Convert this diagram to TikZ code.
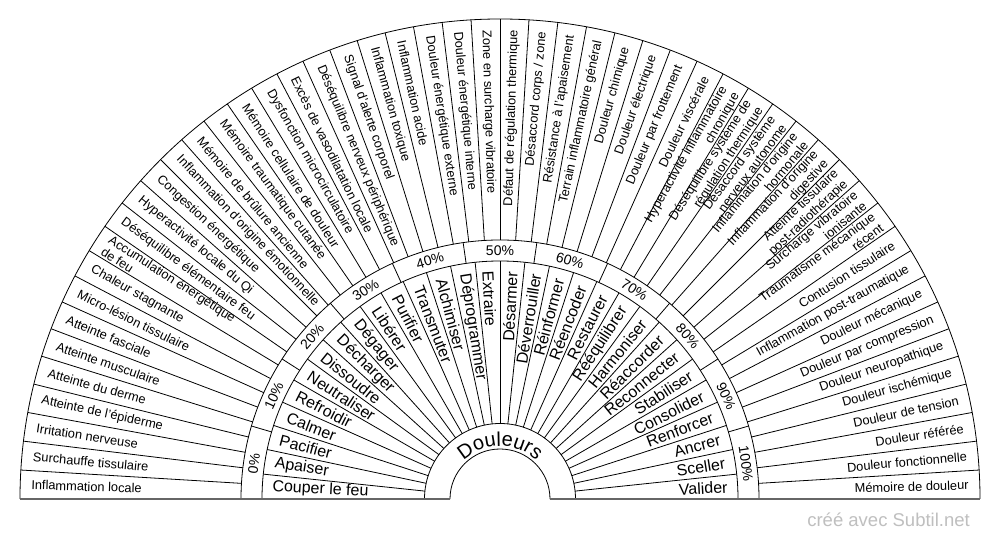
\documentclass[tikz,border=0pt]{standalone}
\usepackage{fontspec}
\setmainfont{Liberation Sans}
\usetikzlibrary{decorations.text}
\tikzset{
  olabel/.style={font=\fontsize{12.8}{14}\selectfont, inner sep=0pt},
  wlabel/.style={font=\fontsize{16}{18}\selectfont, inner sep=0pt},
  plabel/.style={font=\fontsize{14}{16}\selectfont, inner sep=0pt},
  sepline/.style={draw=black, line width=0.8pt},
  baseline/.style={draw=black!60, line width=1.4pt},
  watermark/.style={font=\fontsize{18.5}{20}\selectfont, text=black!25, inner sep=0pt}
}
\begin{document}
\begin{tikzpicture}[x=1pt,y=1pt]
\useasboundingbox (-500,-41) rectangle (500,499);
\fill[white] (-500,-41) rectangle (500,499);
% rings
\foreach \r in {50,75.5,238,259,480}{
  \draw[sepline] (\r,0) arc (0:180:\r);
}
% baseline
\draw[baseline] (-480,0) -- (-50,0);
\draw[baseline] (50,0) -- (480,0);
% outer separators
\foreach \i in {1,...,51}{
  \pgfmathsetmacro\a{180-\i*180/52}
  \draw[sepline] (\a:259) -- (\a:480);
}
% inner word separators
\foreach \i in {1,...,29}{
  \pgfmathsetmacro\a{180-\i*6}
  \draw[sepline] (\a:75.5) -- (\a:238);
}
% percent separators
\foreach \i in {1,...,10}{
  \pgfmathsetmacro\a{180-\i*180/11}
  \draw[sepline] (\a:238) -- (\a:259);
}
% outer labels, left half
\foreach \t [count=\i] in {Inflammation locale, Surchauffe tissulaire, Irritation nerveuse, Atteinte de l'épiderme, Atteinte du derme, Atteinte musculaire, Atteinte fasciale, Micro-lésion tissulaire, Chaleur stagnante, {Accumulation énergétique\\de feu}, Déséquilibre élémentaire feu, Hyperactivité locale du Qi, Congestion énergétique, Inflammation d'origine émotionnelle, Mémoire de brûlure ancienne, Mémoire traumatique cutanée, Mémoire cellulaire de douleur, Dysfonction microcirculatoire, Excès de vasodilatation locale, Déséquilibre nerveux périphérique, Signal d'alerte corporel, Inflammation toxique, Inflammation acide, Douleur énergétique externe, Douleur énergétique interne, Zone en surcharge vibratoire}{
  \pgfmathsetmacro\a{180-(\i-0.5)*180/52}
  \pgfmathsetmacro\rot{\a-180}
  \node[olabel, anchor=west, rotate=\rot, align=left] (o\i) at (\a:469) {\t};
}
% outer labels, right half
\foreach \t [count=\j] in {Défaut de régulation thermique, Désaccord corps / zone, Résistance à l'apaisement, Terrain inflammatoire général, Douleur chimique, Douleur électrique, Douleur par frottement, Douleur viscérale, {Hyperactivité inflammatoire\\chronique}, {Déséquilibre système de\\régulation thermique}, {Désaccord système\\nerveux autonome}, {Inflammation d'origine\\hormonale}, {Inflammation d'origine\\digestive}, {Atteinte tissulaire\\post-radiothérapie}, {Surcharge vibratoire\\ionisante}, {Traumatisme mécanique\\récent}, Contusion tissulaire, Inflammation post-traumatique, Douleur mécanique, Douleur par compression, Douleur neuropathique, Douleur ischémique, Douleur de tension, Douleur référée, Douleur fonctionnelle, Mémoire de douleur}{
  \pgfmathtruncatemacro\i{\j+26}
  \pgfmathsetmacro\a{180-(\i-0.5)*180/52}
  \node[olabel, anchor=east, rotate=\a, align=right] (o\i) at (\a:469) {\t};
}
% inner words, left half
\foreach \t [count=\i] in {Couper le feu, Apaiser, Pacifier, Calmer, Refroidir, Neutraliser, Dissoudre, Décharger, Dégager, Libérer, Purifier, Transmuter, Alchimiser, Déprogrammer, Extraire}{
  \pgfmathsetmacro\a{180-(\i-0.5)*6}
  \pgfmathsetmacro\rot{\a-180}
  \node[wlabel, anchor=west, rotate=\rot] (w\i) at (\a:228) {\t};
}
% inner words, right half
\foreach \t [count=\j] in {Désarmer, Déverrouiller, Réinformer, Réencoder, Restaurer, Rééquilibrer, Harmoniser, Réaccorder, Reconnecter, Stabiliser, Consolider, Renforcer, Ancrer, Sceller, Valider}{
  \pgfmathtruncatemacro\i{\j+15}
  \pgfmathsetmacro\a{180-(\i-0.5)*6}
  \node[wlabel, anchor=east, rotate=\a] (w\i) at (\a:228) {\t};
}
% percentages
\foreach \p [count=\i from 0] in {0,10,20,30,40,50,60,70,80,90,100}{
  \pgfmathsetmacro\a{180-(\i+0.5)*180/11}
  \pgfmathsetmacro\rot{\a-90}
  \node[plabel, rotate=\rot] (p\i) at (\a:248.5) {\p\%};
}
% centre title
\path[decorate, decoration={text along path, text align=center,
  text={|\fontsize{20}{24}\selectfont|Douleurs}}] (180:53) arc (180:0:53);
% watermark
\node[watermark, anchor=base east] (wm) at (470,-28) {créé avec Subtil.net};
\end{tikzpicture}
\end{document}
